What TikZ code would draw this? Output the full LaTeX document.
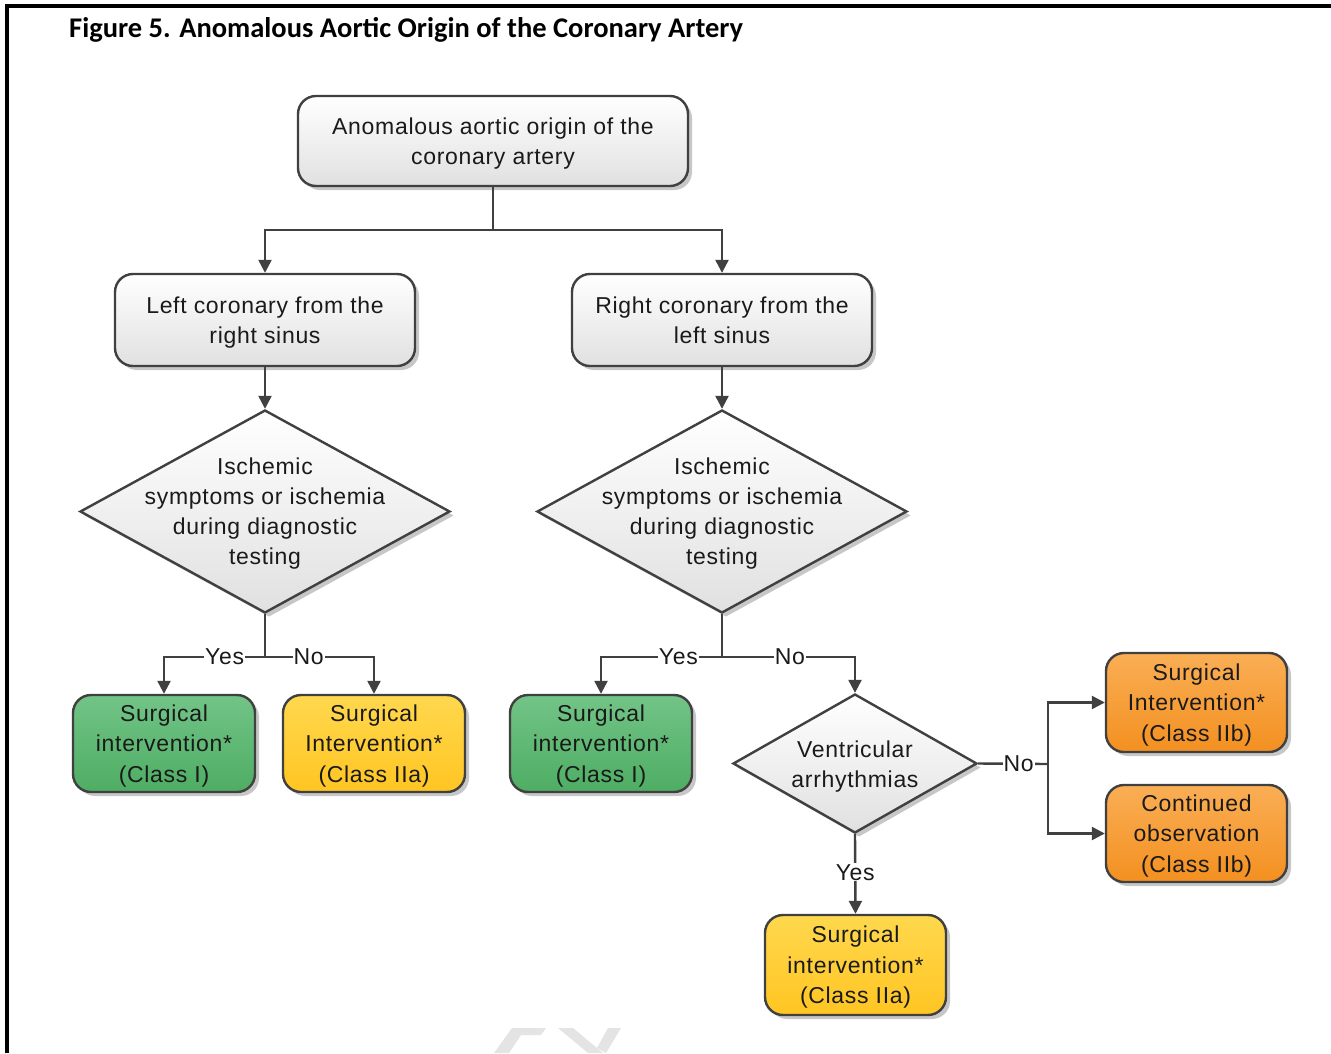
\documentclass[tikz,border=0pt]{standalone}
\usepackage{fontspec}
\setmainfont{Liberation Sans}[LetterSpace=3]
\newfontfamily\titlefont{Carlito}
\usetikzlibrary{shapes.geometric,arrows.meta,shadows}
\definecolor{edge}{HTML}{404040}
\definecolor{txt}{HTML}{1A1A1A}
\definecolor{gtop}{HTML}{72C487}
\definecolor{gbot}{HTML}{4EAD63}
\definecolor{ytop}{HTML}{FFD84E}
\definecolor{ybot}{HTML}{FFC522}
\definecolor{otop}{HTML}{FAAE55}
\definecolor{obot}{HTML}{F39020}
\definecolor{wm}{HTML}{E4E4E4}
\tikzset{
  x=1pt, y=-1pt,
  shad/.style={drop shadow={shadow xshift=4pt, shadow yshift=-4pt, fill=black, opacity=0.22}},
  boxbase/.style={draw=edge, line width=2.4, rounded corners=18, align=center,
    font=\fontsize{23}{30.5}\selectfont, text=txt, inner sep=0, text depth=0pt, shad},
  graybox/.style={boxbase, top color=white, bottom color=black!12},
  greenbox/.style={boxbase, top color=gtop, bottom color=gbot},
  yellowbox/.style={boxbase, top color=ytop, bottom color=ybot},
  orangebox/.style={boxbase, top color=otop, bottom color=obot},
  dia/.style={diamond, draw=edge, line width=2.4, inner sep=0, top color=white, bottom color=black!12, shad},
  dtxt/.style={align=center, font=\fontsize{23}{30}\selectfont, text=txt, inner sep=0, text depth=0pt},
  line/.style={draw=edge, line width=2.4},
  arr/.style={line, -{Triangle[length=13pt,width=13pt]}},
  lbl/.style={fill=white, inner sep=1pt, font=\fontsize{23}{26}\selectfont, text=txt},
}
\begin{document}
\begin{tikzpicture}
\useasboundingbox (0,0) rectangle (1331,1053);
\fill[white] (0,0) rectangle (1331,1053);
% frame
\draw[line width=4, black] (7,1053) -- (7,6) -- (1331,6);
% title
\node[anchor=west, inner sep=0, text=black, font=\titlefont\bfseries\fontsize{28.5}{32}\selectfont] (title) at (69,30) {Figure 5. Anomalous Aortic Origin of the Coronary Artery};
% watermark fragments
\fill[wm] (512,1028) -- (546,1028) -- (541,1035) -- (521,1035) -- (509,1053) -- (494,1053) -- cycle;
\fill[wm] (558,1028) -- (573,1028) -- (603,1053) -- (588,1053) -- cycle;
\fill[wm] (608,1028) -- (621,1028) -- (606,1053) -- (597,1048) -- cycle;
% nodes
\node[graybox, minimum width=390, minimum height=90] (top) at (493,141) {Anomalous aortic origin of the\\coronary artery};
\node[graybox, minimum width=300, minimum height=92] (L1) at (265,320) {Left coronary from the\\right sinus};
\node[graybox, minimum width=300, minimum height=92] (R1) at (722,320) {Right coronary from the\\left sinus};
\node[dia, minimum width=370, minimum height=203] (d1) at (265,511.5) {};
\node[dtxt] (d1t) at (d1) {Ischemic\\symptoms or ischemia\\during diagnostic\\testing};
\node[dia, minimum width=370, minimum height=203] (d2) at (722,511.5) {};
\node[dtxt] (d2t) at (d2) {Ischemic\\symptoms or ischemia\\during diagnostic\\testing};
\node[greenbox, minimum width=182, minimum height=97] (g1) at (164,743.5) {Surgical\\intervention*\\(Class I)};
\node[yellowbox, minimum width=182, minimum height=97] (y1) at (374,743.5) {Surgical\\Intervention*\\(Class IIa)};
\node[greenbox, minimum width=182, minimum height=97] (g2) at (601,743.5) {Surgical\\intervention*\\(Class I)};
\node[dia, minimum width=244, minimum height=139] (d3) at (855,763.5) {};
\node[dtxt] (d3t) at (855,764) {Ventricular\\arrhythmias};
\node[orangebox, minimum width=181, minimum height=99] (o1) at (1196.5,702.5) {Surgical\\Intervention*\\(Class IIb)};
\node[orangebox, minimum width=181, minimum height=97] (o2) at (1196.5,833.5) {Continued\\observation\\(Class IIb)};
\node[yellowbox, minimum width=181, minimum height=100] (y2) at (855.5,965) {Surgical\\intervention*\\(Class IIa)};
% connectors
\coordinate (jt) at (493,230);
\draw[line] (top.south) -- (jt);
\draw[arr] (jt) -| (L1.north);
\draw[arr] (jt) -| (R1.north);
\draw[arr] (L1.south) -- (d1.north);
\draw[arr] (R1.south) -- (d2.north);
\coordinate (j1) at (265,657);
\draw[line] (d1.south) -- (j1);
\draw[arr] (j1) -- node[lbl, pos=0.4] {Yes} (g1.north |- j1) -- (g1.north);
\draw[arr] (j1) -- node[lbl, pos=0.4] {No} (y1.north |- j1) -- (y1.north);
\coordinate (j2) at (722,657);
\draw[line] (d2.south) -- (j2);
\draw[arr] (j2) -- node[lbl, pos=0.36] {Yes} (g2.north |- j2) -- (g2.north);
\draw[arr] (j2) -- node[lbl, pos=0.51] {No} (d3.north |- j2) -- (d3.north);
\coordinate (j3) at (1048,764);
\draw[line] (d3.east) -- node[lbl, pos=0.58] {No} (j3);
\draw[arr] (j3) |- (o1.west);
\draw[arr] (j3) |- (o2.west);
\draw[arr] (d3.south) -- node[lbl, pos=0.48] {Yes} (y2.north);
\end{tikzpicture}
\end{document}
